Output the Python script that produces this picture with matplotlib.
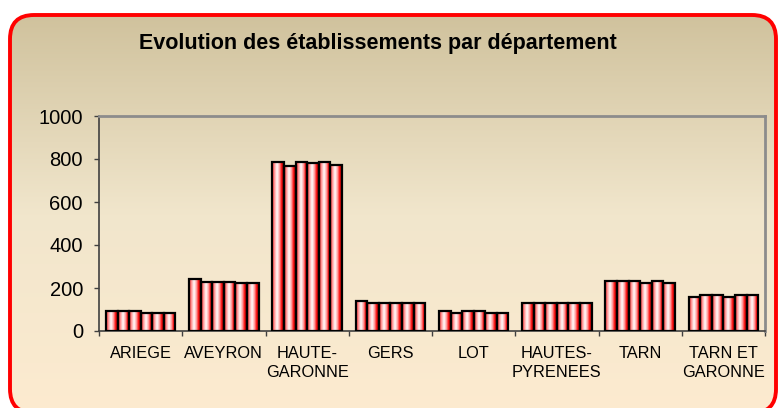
import numpy as np
import matplotlib.pyplot as plt
from matplotlib.colors import LinearSegmentedColormap
from matplotlib.patches import FancyBboxPatch

plt.rcParams['font.family'] = ['Liberation Sans', 'DejaVu Sans']

# valeurs (6 années par département)
categories = ["ARIEGE", "AVEYRON", "HAUTE-\nGARONNE", "GERS", "LOT",
              "HAUTES-\nPYRENEES", "TARN", "TARN ET\nGARONNE"]
ariege = [93, 93, 93, 85, 85, 85]
aveyron = [240, 229, 229, 229, 221, 221]
haute_garonne = [787, 769, 787, 780, 787, 771]
gers = [139, 130, 130, 130, 130, 130]
lot = [93, 84, 93, 93, 84, 84]
hautes_pyrenees = [130, 130, 130, 130, 130, 130]
tarn = [232, 232, 232, 223, 232, 223]
tarn_et_garonne = [158, 167, 167, 158, 167, 167]
y_ticks = [0, 200, 400, 600, 800, 1000]
title = "Evolution des établissements par département"

W, H = 778, 408

bar_cmap = LinearSegmentedColormap.from_list("barre", [
    (0.0, "#ff2020"), (0.16, "#ff8080"), (0.42, "#ffffff"),
    (0.62, "#ffa8a8"), (0.8, "#ff1010"), (1.0, "#8c0000")])
bg_cmap = LinearSegmentedColormap.from_list("fond", ["#fdebd0", "#f1e6cc", "#d0c29d"])


def draw_background(fig):
    bg = fig.add_axes([0, 0, 1, 1], zorder=0)
    bg.set_xlim(0, W)
    bg.set_ylim(0, H)
    bg.axis('off')
    # cadre arrondi rouge (le bas dépasse de l'image)
    box = FancyBboxPatch((10, -5), 766, H - 15 + 5, boxstyle="round,pad=0,rounding_size=24",
                         facecolor='none', edgecolor='#ff0000', linewidth=2.8, zorder=3)
    grad = np.linspace(0, 1, 256).reshape(-1, 1)
    im = bg.imshow(grad, cmap=bg_cmap, extent=[10, 776, -5, H - 15], origin='lower',
                   aspect='auto', interpolation='bilinear', zorder=1)
    bg.add_patch(box)
    im.set_clip_path(box)


def main():
    data = np.array([ariege, aveyron, haute_garonne, gers, lot,
                     hautes_pyrenees, tarn, tarn_et_garonne])
    n_cat, n_ser = data.shape

    fig = plt.figure(figsize=(W / 100, H / 100), dpi=100)
    fig.patch.set_facecolor('white')
    draw_background(fig)

    ax = fig.add_axes([99 / W, 1 - 331 / H, (765 - 99) / W, (331 - 116) / H], zorder=2)
    ax.patch.set_alpha(0)

    x = np.arange(n_cat)
    width = (1 / 1.2) / n_ser
    grad = np.linspace(0, 1, 128).reshape(1, -1)
    for i in range(n_ser):
        bars = ax.bar(x - 0.5 / 1.2 + (i + 0.5) * width, data[:, i], width,
                      facecolor='none', edgecolor='black', linewidth=1.6, zorder=3)
        for b in bars:
            ax.imshow(grad, cmap=bar_cmap, aspect='auto', interpolation='bilinear',
                      extent=[b.get_x(), b.get_x() + b.get_width(), 0, b.get_height()],
                      zorder=2)

    ax.set_xlim(-0.5, n_cat - 0.5)
    ax.set_ylim(0, 1000)
    ax.set_yticks(y_ticks)
    ax.tick_params(axis='y', labelsize=14.5, length=3.6, width=1, pad=8, color='#404040')
    ax.set_xticks(x, categories)
    ax.tick_params(axis='x', which='major', length=0, pad=11, labelsize=11.8)
    ax.set_xticks(np.arange(n_cat + 1) - 0.5, minor=True)
    ax.tick_params(axis='x', which='minor', length=3.6, width=1, color='#404040')
    for lab in ax.get_xticklabels():
        lab.set_linespacing(1.3)

    for s in ['left', 'bottom']:
        ax.spines[s].set_color('#404040')
        ax.spines[s].set_linewidth(1.2)
    for s in ['top', 'right']:
        ax.spines[s].set_color('#8c8c8c')
        ax.spines[s].set_linewidth(2)

    fig.text(378 / W, 1 - 44 / H, title, ha='center', va='center',
             fontsize=15.5, fontweight='bold')

    fig.savefig("out.png", dpi=100)
    plt.close()


if __name__ == "__main__":
    main()
